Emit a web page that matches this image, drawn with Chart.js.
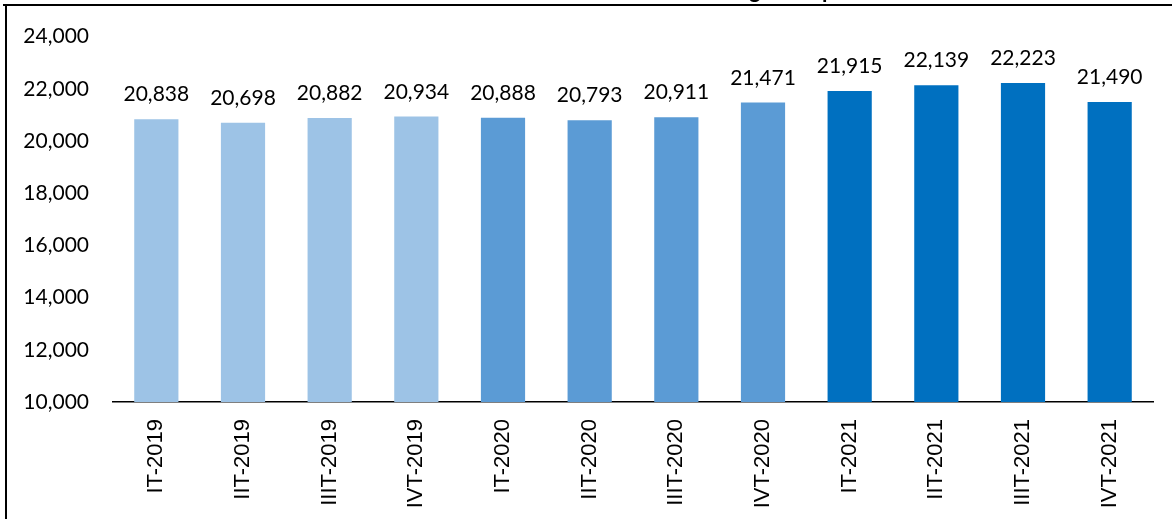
<!DOCTYPE html>
<html>
<head>
<meta charset="utf-8">
<script src="https://cdn.jsdelivr.net/npm/chart.js@4"></script>
<style>
  html, body { margin: 0; padding: 0; background: #fff; }
  #wrap { position: relative; width: 1172px; height: 519px; }
  canvas { display: block; }
</style>
</head>
<body>
<div id="wrap"><canvas id="c" width="1172" height="519"></canvas></div>
<script>
const categories = ["IT-2019","IIT-2019","IIIT-2019","IVT-2019","IT-2020","IIT-2020","IIIT-2020","IVT-2020","IT-2021","IIT-2021","IIIT-2021","IVT-2021"];
const values = [20838, 20698, 20882, 20934, 20888, 20793, 20911, 21471, 21915, 22139, 22223, 21490];
const barColors = ["#9DC3E6","#9DC3E6","#9DC3E6","#9DC3E6","#5B9BD5","#5B9BD5","#5B9BD5","#5B9BD5","#0070C0","#0070C0","#0070C0","#0070C0"];
const yMin = 10000, yMax = 24000, yStep = 2000;

const fmt = v => v.toLocaleString('en-US');

const framePlugin = {
  id: 'frame',
  afterDraw(chart) {
    const ctx = chart.ctx;
    ctx.save();
    // cropped title (only descenders visible)
    ctx.fillStyle = '#000';
    ctx.font = 'bold 22px Lato, sans-serif';
    ctx.textBaseline = 'alphabetic';
    ctx.textAlign = 'left';
    ctx.fillText('g', 749, -2);
    ctx.fillText('p', 822, -2);
    // frame border
    ctx.strokeStyle = '#000';
    ctx.lineWidth = 2;
    ctx.beginPath();
    ctx.moveTo(3, 5);
    ctx.lineTo(1172, 5);
    ctx.moveTo(6, 4);
    ctx.lineTo(6, 519);
    ctx.stroke();
    ctx.restore();
  }
};

const valueLabels = {
  id: 'valueLabels',
  afterDatasetsDraw(chart) {
    const ctx = chart.ctx;
    ctx.save();
    ctx.fillStyle = '#000';
    ctx.font = '21px Lato, sans-serif';
    ctx.textAlign = 'center';
    ctx.textBaseline = 'alphabetic';
    chart.getDatasetMeta(0).data.forEach((bar, i) => {
      ctx.fillText(fmt(values[i]), bar.x, bar.y - 18);
    });
    ctx.restore();
  }
};

new Chart(document.getElementById('c'), {
  type: 'bar',
  data: {
    labels: categories,
    datasets: [{
      data: values,
      backgroundColor: barColors,
      borderWidth: 0,
      barPercentage: 0.51,
      categoryPercentage: 1.0
    }]
  },
  options: {
    responsive: false,
    animation: false,
    devicePixelRatio: 1,
    layout: { padding: { left: 0, right: 19, top: 35, bottom: 0 } },
    plugins: { legend: { display: false }, title: { display: false }, tooltip: { enabled: false } },
    scales: {
      x: {
        grid: { display: false, drawTicks: false },
        border: { display: true, color: '#000', width: 1.5 },
        ticks: {
          color: '#000',
          font: { family: '"Liberation Sans Narrow", "Liberation Sans", Arial, sans-serif', size: 22 },
          minRotation: 90, maxRotation: 90,
          padding: 17,
          autoSkip: false
        },
        afterFit(scale) { scale.height = 519 - 402; }
      },
      y: {
        min: yMin, max: yMax,
        grid: { display: false, drawTicks: false },
        border: { display: false },
        ticks: {
          stepSize: yStep,
          color: '#000',
          font: { family: 'Lato, sans-serif', size: 21 },
          padding: 24,
          callback: v => fmt(v)
        },
        afterFit(scale) { scale.width = 113; }
      }
    }
  },
  plugins: [valueLabels, framePlugin]
});
</script>
</body>
</html>
